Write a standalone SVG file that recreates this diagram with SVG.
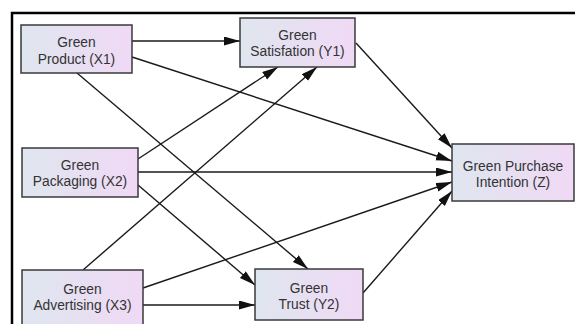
<svg xmlns="http://www.w3.org/2000/svg" width="575" height="324" viewBox="0 0 575 324">
<style>
.box{fill:url(#g);stroke:#3a3a3a;stroke-width:1.5}
.t{font-family:"Liberation Sans",Arial,sans-serif;font-size:13.8px;fill:#333;text-anchor:middle}
.c{stroke:#1a1a1a;stroke-width:1.4;fill:none;marker-end:url(#a)}
</style>
<defs>
<linearGradient id="g" x1="0" y1="0" x2="1" y2="0">
<stop offset="0" stop-color="#dfe6ef"/>
<stop offset="1" stop-color="#f0d9f5"/>
</linearGradient>
<marker id="a" markerUnits="userSpaceOnUse" markerWidth="17" markerHeight="10" refX="16" refY="4.5" orient="auto">
<path d="M0,0 L16,4.5 L0,9 z" fill="#111"/>
</marker>
</defs>
<rect width="575" height="324" fill="#fff"/>
<path d="M12,324 V13 H575" fill="none" stroke="#000" stroke-width="2.5"/>
<g id="connectors">
<line class="c" x1="132" y1="41" x2="240" y2="41"/>
<line class="c" x1="132" y1="57" x2="452" y2="161"/>
<line class="c" x1="77" y1="73" x2="308" y2="269"/>
<line class="c" x1="138" y1="159" x2="278" y2="67"/>
<line class="c" x1="138" y1="172" x2="452" y2="172"/>
<line class="c" x1="138" y1="185" x2="255" y2="285"/>
<line class="c" x1="83" y1="270" x2="317" y2="67"/>
<line class="c" x1="143" y1="288" x2="452" y2="182"/>
<line class="c" x1="143" y1="305" x2="255" y2="305"/>
<line class="c" x1="356" y1="43" x2="452" y2="148"/>
<line class="c" x1="363" y1="293" x2="452" y2="191"/>
</g>
<g id="X1"><rect class="box" x="21" y="25" width="111" height="48"/><text class="t" x="76.5" y="47">Green</text><text class="t" x="76.5" y="63.5">Product (X1)</text></g>
<g id="Y1"><rect class="box" x="240" y="18" width="115" height="49"/><text class="t" x="297.5" y="39.5">Green</text><text class="t" x="297.5" y="56">Satisfation (Y1)</text></g>
<g id="X2"><rect class="box" x="22" y="148" width="116" height="49"/><text class="t" x="80" y="169.5">Green</text><text class="t" x="80" y="185.5">Packaging (X2)</text></g>
<g id="X3"><rect class="box" x="22" y="270" width="121" height="58"/><text class="t" x="82.5" y="294">Green</text><text class="t" x="82.5" y="310">Advertising (X3)</text></g>
<g id="Y2"><rect class="box" x="255" y="269" width="108" height="51"/><text class="t" x="309" y="292.5">Green</text><text class="t" x="309" y="308.5">Trust (Y2)</text></g>
<g id="Z"><rect class="box" x="452" y="144" width="122" height="57"/><text class="t" x="513" y="170.5">Green Purchase</text><text class="t" x="513" y="186.5">Intention (Z)</text></g>
</svg>
